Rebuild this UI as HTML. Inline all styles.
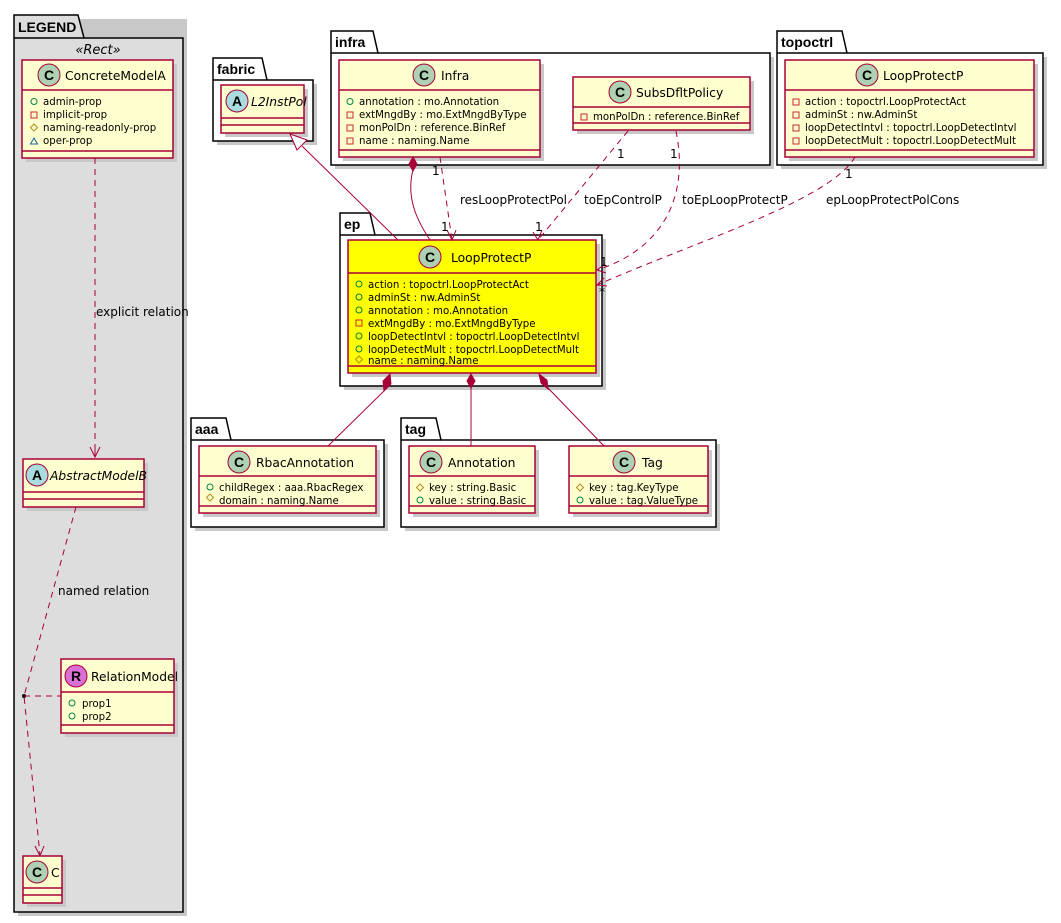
<!DOCTYPE html>
<html><head><meta charset="utf-8"><style>
html,body{margin:0;padding:0;background:#fff;}
svg{display:block;font-family:"Liberation Sans","DejaVu Sans",sans-serif;}
.cls{fill:#FEFECE;stroke:#A80036;stroke-width:1.5;}
.sh{fill:#c8c8c8;}
.ln{stroke:#A80036;stroke-width:1.5;}
.pk{fill:#fff;stroke:#000;stroke-width:1.5;}
.t{font-size:12.3px;fill:#000;font-family:"DejaVu Sans",sans-serif;}
.a{font-size:10.2px;fill:#000;font-family:"DejaVu Sans",sans-serif;}
.e{stroke:#A80036;stroke-width:1;fill:none;}
.d{stroke-dasharray:6,5;}
.lb{font-size:12px;fill:#000;font-family:"DejaVu Sans",sans-serif;}
.g{fill:none;stroke:#038048;}
.r{fill:none;stroke:#C82930;}
.y{fill:none;stroke:#B38D22;}
.b{fill:none;stroke:#1963A0;}
</style></head><body>
<svg width="1061" height="923" viewBox="0 0 1061 923">
<!-- LEGEND package -->
<rect x="18" y="19" width="169" height="897" class="sh"/>
<path d="M14 15 H78 L84 38 H183 V912 H14 Z" fill="#DDDDDD" stroke="#000" stroke-width="1.5"/>
<line x1="14" y1="38" x2="84" y2="38" stroke="#000" stroke-width="1.5"/>
<text x="18" y="32" font-size="14" font-weight="bold">LEGEND</text>
<text x="98" y="54" font-size="13" font-style="italic" text-anchor="middle" font-family="DejaVu Sans, sans-serif">«Rect»</text>

<!-- ConcreteModelA -->
<rect x="26" y="64" width="151" height="98" class="sh"/>
<rect x="22" y="60" width="151" height="98" class="cls"/>
<line x1="22" y1="90" x2="173" y2="90" class="ln"/><line x1="22" y1="151" x2="173" y2="151" class="ln"/>
<circle cx="49" cy="75" r="11" fill="#ADD1B2" stroke="#A80036"/><text x="49" y="80" font-size="14" font-weight="bold" text-anchor="middle">C</text>
<text x="65" y="80" class="t">ConcreteModelA</text>
<circle cx="34" cy="101.5" r="3" class="g"/><text x="43" y="105" class="a">admin-prop</text>
<rect x="31" y="112" width="6" height="6" class="r"/><text x="43" y="118" class="a">implicit-prop</text>
<path d="M34 124 L37.5 127.5 L34 131 L30.5 127.5 Z" class="y"/><text x="43" y="131" class="a">naming-readonly-prop</text>
<path d="M30.5 144 L34 138 L37.5 144 Z" class="b"/><text x="43" y="144" class="a">oper-prop</text>

<!-- explicit relation -->
<line x1="95" y1="158" x2="95" y2="456" class="e d"/>
<path d="M90 447 L95 457 L100 447 M95 457 L95 447" class="e"/>
<text x="96" y="316" class="lb">explicit relation</text>

<!-- AbstractModelB -->
<rect x="27" y="463" width="121" height="48" class="sh"/>
<rect x="23" y="459" width="121" height="48" class="cls"/>
<line x1="23" y1="492" x2="144" y2="492" class="ln"/><line x1="23" y1="499" x2="144" y2="499" class="ln"/>
<circle cx="37" cy="475" r="11" fill="#A9DCDF" stroke="#A80036"/><text x="37" y="480" font-size="14" font-weight="bold" text-anchor="middle">A</text>
<text x="50" y="480" class="t" font-style="italic" font-size="11.5">AbstractModelB</text>

<!-- named relation -->
<path d="M76 507 L24 696 L40 855" class="e d"/>
<path d="M35 846 L40 856 L44 846" class="e"/>
<circle cx="24" cy="696" r="2" fill="#000"/>
<line x1="24" y1="696" x2="61" y2="696" class="e d"/>
<text x="58" y="595" class="lb">named relation</text>

<!-- RelationModel -->
<rect x="65" y="663" width="113" height="74" class="sh"/>
<rect x="61" y="659" width="113" height="74" class="cls"/>
<line x1="61" y1="692" x2="174" y2="692" class="ln"/><line x1="61" y1="725" x2="174" y2="725" class="ln"/>
<circle cx="76" cy="676" r="11" fill="#DA70D6" stroke="#A80036"/><text x="76" y="681" font-size="14" font-weight="bold" text-anchor="middle">R</text>
<text x="91" y="681" class="t" font-size="11.5">RelationModel</text>
<circle cx="72" cy="703" r="3" class="g"/><text x="82" y="707" class="a">prop1</text>
<circle cx="72" cy="716" r="3" class="g"/><text x="82" y="720" class="a">prop2</text>

<!-- C -->
<rect x="27" y="860" width="39" height="47" class="sh"/>
<rect x="23" y="856" width="39" height="47" class="cls"/>
<line x1="23" y1="888" x2="62" y2="888" class="ln"/><line x1="23" y1="895" x2="62" y2="895" class="ln"/>
<circle cx="37" cy="872" r="11" fill="#ADD1B2" stroke="#A80036"/><text x="37" y="877" font-size="14" font-weight="bold" text-anchor="middle">C</text>
<text x="51" y="877" class="t">C</text>

<!-- fabric -->
<rect x="217" y="84" width="100" height="61" class="sh"/>
<path d="M213 58 H262 L267 80 H313 V141 H213 Z" class="pk"/>
<line x1="213" y1="80" x2="267" y2="80" stroke="#000" stroke-width="1.5"/>
<text x="217" y="74" font-size="14" font-weight="bold">fabric</text>
<rect x="225" y="89" width="83" height="48" class="sh"/>
<rect x="221" y="85" width="83" height="48" class="cls"/>
<line x1="221" y1="118" x2="304" y2="118" class="ln"/><line x1="221" y1="125" x2="304" y2="125" class="ln"/>
<circle cx="237" cy="101" r="11" fill="#A9DCDF" stroke="#A80036"/><text x="237" y="106" font-size="14" font-weight="bold" text-anchor="middle">A</text>
<text x="251" y="106" class="t" font-style="italic" font-size="11.5">L2InstPol</text>

<!-- infra -->
<rect x="335" y="57" width="439" height="112" class="sh"/>
<path d="M331 31 H373 L378 53 H770 V165 H331 Z" class="pk"/>
<line x1="331" y1="53" x2="378" y2="53" stroke="#000" stroke-width="1.5"/>
<text x="335" y="47" font-size="14" font-weight="bold">infra</text>
<rect x="343" y="64" width="201" height="97" class="sh"/>
<rect x="339" y="60" width="201" height="97" class="cls"/>
<line x1="339" y1="90" x2="540" y2="90" class="ln"/><line x1="339" y1="150" x2="540" y2="150" class="ln"/>
<circle cx="424" cy="75" r="11" fill="#ADD1B2" stroke="#A80036"/><text x="424" y="80" font-size="14" font-weight="bold" text-anchor="middle">C</text>
<text x="441" y="80" class="t">Infra</text>
<circle cx="350" cy="101.5" r="3" class="g"/><text x="359" y="105" class="a">annotation : mo.Annotation</text>
<rect x="347" y="112" width="6" height="6" class="r"/><text x="359" y="118" class="a">extMngdBy : mo.ExtMngdByType</text>
<rect x="347" y="125" width="6" height="6" class="r"/><text x="359" y="131" class="a">monPolDn : reference.BinRef</text>
<rect x="347" y="138" width="6" height="6" class="r"/><text x="359" y="144" class="a">name : naming.Name</text>

<rect x="577" y="81" width="177" height="53" class="sh"/>
<rect x="573" y="77" width="177" height="53" class="cls"/>
<line x1="573" y1="107" x2="750" y2="107" class="ln"/><line x1="573" y1="123" x2="750" y2="123" class="ln"/>
<circle cx="620" cy="92" r="11" fill="#ADD1B2" stroke="#A80036"/><text x="620" y="97" font-size="14" font-weight="bold" text-anchor="middle">C</text>
<text x="636" y="97" class="t">SubsDfltPolicy</text>
<rect x="581" y="114" width="6" height="6" class="r"/><text x="593" y="120" class="a">monPolDn : reference.BinRef</text>

<!-- topoctrl -->
<rect x="781" y="57" width="266" height="112" class="sh"/>
<path d="M777 31 H842 L847 53 H1043 V165 H777 Z" class="pk"/>
<line x1="777" y1="53" x2="847" y2="53" stroke="#000" stroke-width="1.5"/>
<text x="781" y="47" font-size="14" font-weight="bold">topoctrl</text>
<rect x="789" y="64" width="249" height="97" class="sh"/>
<rect x="785" y="60" width="249" height="97" class="cls"/>
<line x1="785" y1="90" x2="1034" y2="90" class="ln"/><line x1="785" y1="150" x2="1034" y2="150" class="ln"/>
<circle cx="867" cy="75" r="11" fill="#ADD1B2" stroke="#A80036"/><text x="867" y="80" font-size="14" font-weight="bold" text-anchor="middle">C</text>
<text x="883" y="80" class="t">LoopProtectP</text>
<rect x="793" y="99" width="6" height="6" class="r"/><text x="805" y="105" class="a">action : topoctrl.LoopProtectAct</text>
<rect x="793" y="112" width="6" height="6" class="r"/><text x="805" y="118" class="a">adminSt : nw.AdminSt</text>
<rect x="793" y="125" width="6" height="6" class="r"/><text x="805" y="131" class="a">loopDetectIntvl : topoctrl.LoopDetectIntvl</text>
<rect x="793" y="138" width="6" height="6" class="r"/><text x="805" y="144" class="a">loopDetectMult : topoctrl.LoopDetectMult</text>

<!-- ep -->
<rect x="344" y="239" width="262" height="151" class="sh"/>
<path d="M340 213 H370 L375 235 H602 V386 H340 Z" class="pk"/>
<line x1="340" y1="235" x2="375" y2="235" stroke="#000" stroke-width="1.5"/>
<text x="344" y="229" font-size="14" font-weight="bold">ep</text>
<rect x="352" y="244" width="248" height="133" class="sh"/>
<rect x="348" y="240" width="248" height="133" fill="#FFFF00" stroke="#A80036" stroke-width="1.5"/>
<line x1="348" y1="273" x2="596" y2="273" class="ln"/><line x1="348" y1="366" x2="596" y2="366" class="ln"/>
<circle cx="430" cy="257" r="11" fill="#ADD1B2" stroke="#A80036"/><text x="430" y="262" font-size="14" font-weight="bold" text-anchor="middle">C</text>
<text x="451" y="262" class="t">LoopProtectP</text>
<circle cx="359" cy="284" r="3" class="g"/><text x="368" y="288" class="a">action : topoctrl.LoopProtectAct</text>
<circle cx="359" cy="297" r="3" class="g"/><text x="368" y="301" class="a">adminSt : nw.AdminSt</text>
<circle cx="359" cy="310" r="3" class="g"/><text x="368" y="314" class="a">annotation : mo.Annotation</text>
<rect x="356" y="320" width="6" height="6" class="r"/><text x="368" y="327" class="a">extMngdBy : mo.ExtMngdByType</text>
<circle cx="359" cy="336" r="3" class="g"/><text x="368" y="340" class="a">loopDetectIntvl : topoctrl.LoopDetectIntvl</text>
<circle cx="359" cy="349" r="3" class="g"/><text x="368" y="353" class="a">loopDetectMult : topoctrl.LoopDetectMult</text>
<path d="M359 356 L362.5 359.5 L359 363 L355.5 359.5 Z" class="y"/><text x="368" y="364" class="a">name : naming.Name</text>

<!-- aaa -->
<rect x="195" y="444" width="193" height="87" class="sh"/>
<path d="M191 418 H226 L231 440 H384 V527 H191 Z" class="pk"/>
<line x1="191" y1="440" x2="231" y2="440" stroke="#000" stroke-width="1.5"/>
<text x="195" y="434" font-size="14" font-weight="bold">aaa</text>
<rect x="203" y="450" width="177" height="67" class="sh"/>
<rect x="199" y="446" width="177" height="67" class="cls"/>
<line x1="199" y1="476" x2="376" y2="476" class="ln"/><line x1="199" y1="506" x2="376" y2="506" class="ln"/>
<circle cx="239" cy="462" r="11" fill="#ADD1B2" stroke="#A80036"/><text x="239" y="467" font-size="14" font-weight="bold" text-anchor="middle">C</text>
<text x="256" y="467" class="t">RbacAnnotation</text>
<circle cx="210" cy="487" r="3" class="g"/><text x="219" y="491" class="a">childRegex : aaa.RbacRegex</text>
<path d="M210 494 L213.5 497.5 L210 501 L206.5 497.5 Z" class="y"/><text x="219" y="504" class="a">domain : naming.Name</text>

<!-- tag -->
<rect x="405" y="444" width="315" height="87" class="sh"/>
<path d="M401 418 H436 L441 440 H716 V527 H401 Z" class="pk"/>
<line x1="401" y1="440" x2="441" y2="440" stroke="#000" stroke-width="1.5"/>
<text x="405" y="434" font-size="14" font-weight="bold">tag</text>
<rect x="413" y="450" width="126" height="67" class="sh"/>
<rect x="409" y="446" width="126" height="67" class="cls"/>
<line x1="409" y1="476" x2="535" y2="476" class="ln"/><line x1="409" y1="506" x2="535" y2="506" class="ln"/>
<circle cx="431" cy="462" r="11" fill="#ADD1B2" stroke="#A80036"/><text x="431" y="467" font-size="14" font-weight="bold" text-anchor="middle">C</text>
<text x="448" y="467" class="t">Annotation</text>
<path d="M420 484 L423.5 487.5 L420 491 L416.5 487.5 Z" class="y"/><text x="429" y="491" class="a">key : string.Basic</text>
<circle cx="420" cy="500" r="3" class="g"/><text x="429" y="504" class="a">value : string.Basic</text>

<rect x="573" y="450" width="139" height="67" class="sh"/>
<rect x="569" y="446" width="139" height="67" class="cls"/>
<line x1="569" y1="476" x2="708" y2="476" class="ln"/><line x1="569" y1="506" x2="708" y2="506" class="ln"/>
<circle cx="624" cy="462" r="11" fill="#ADD1B2" stroke="#A80036"/><text x="624" y="467" font-size="14" font-weight="bold" text-anchor="middle">C</text>
<text x="642" y="467" class="t">Tag</text>
<path d="M580 484 L583.5 487.5 L580 491 L576.5 487.5 Z" class="y"/><text x="589" y="491" class="a">key : tag.KeyType</text>
<circle cx="580" cy="500" r="3" class="g"/><text x="589" y="504" class="a">value : tag.ValueType</text>

<!-- edges -->
<line x1="302" y1="146" x2="398" y2="240" class="e"/>
<path d="M290 134 L307 140 L297 150 Z" fill="#fff" stroke="#A80036"/>

<path d="M413 170 C405 200, 420 225, 430 240" class="e"/>
<path d="M413 157 L417 164 L413 171 L409 164 Z" fill="#A80036" stroke="#A80036"/>

<path d="M440 157 L452 240" class="e d"/>
<path d="M447 230 L452 240 L456 230" class="e"/>
<text x="432" y="175" class="lb">1</text><text x="441" y="231" class="lb">1</text>
<text x="460" y="204" class="lb">resLoopProtectPol</text>

<path d="M628 131 L538 240" class="e d"/>
<path d="M533 232 L538 240 L542 230" class="e"/>
<text x="617" y="158" class="lb">1</text><text x="535" y="231" class="lb">1</text>
<text x="584" y="204" class="lb">toEpControlP</text>

<path d="M676 131 C690 200, 660 250, 597 270" class="e d"/>
<path d="M605 264 L597 270 L606 273" class="e"/>
<text x="670" y="158" class="lb">1</text><text x="600" y="266" class="lb">1</text>
<text x="682" y="204" class="lb">toEpLoopProtectP</text>

<path d="M855 157 C830 200, 700 240, 597 285" class="e d"/>
<path d="M604 278 L597 285 L607 286" class="e"/>
<text x="845" y="178" class="lb">1</text><text x="599" y="296" class="lb">*</text>
<text x="826" y="204" class="lb">epLoopProtectPolCons</text>

<line x1="385" y1="390" x2="328" y2="446" class="e"/>
<path d="M390 374 L391 384 L384 391 L383 381 Z" fill="#A80036" stroke="#A80036"/>
<line x1="471" y1="388" x2="471" y2="446" class="e"/>
<path d="M471 374 L475 381 L471 388 L467 381 Z" fill="#A80036" stroke="#A80036"/>
<line x1="548" y1="388" x2="604" y2="446" class="e"/>
<path d="M539 374 L547 380 L548 389 L541 383 Z" fill="#A80036" stroke="#A80036"/>
</svg>
</body></html>
